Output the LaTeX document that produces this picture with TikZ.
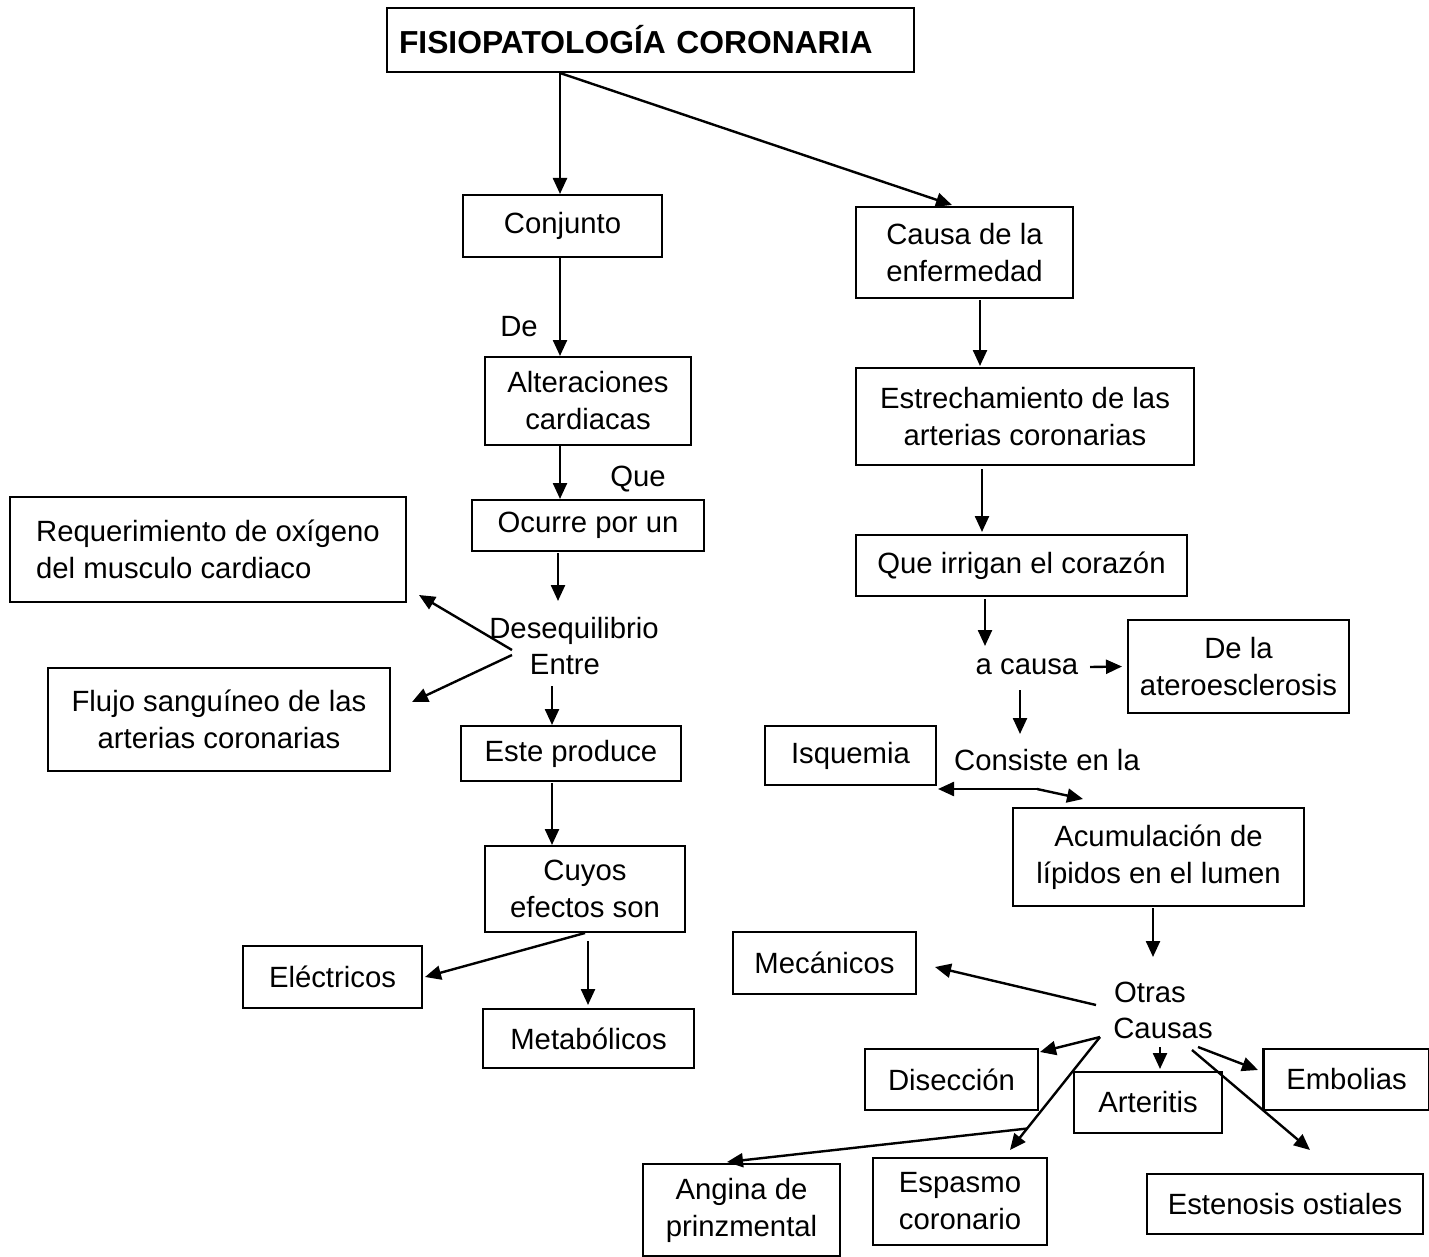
\documentclass[tikz,border=0pt]{standalone}
\usepackage{fontspec}
\setmainfont{Liberation Sans}
\usetikzlibrary{arrows.meta,calc}
\newcommand\mapfont{\fontsize{14.65pt}{18.5pt}\selectfont}
\newcommand\headfont{\fontsize{15.9pt}{19pt}\selectfont\bfseries}
\begin{document}
\begin{tikzpicture}[x=0.5pt,y=-0.5pt,
  box/.style={draw, line width=1.3pt, align=center, inner sep=0pt, font=\mapfont},
  lbl/.style={inner sep=0pt, align=center, font=\mapfont},
  arr/.style={line width=1.2pt, -{Triangle[length=8pt,width=7pt]}},
]
\useasboundingbox (0,0) rectangle (1429,1257);

% ---- boxes ----
\node[box, font=\headfont, align=left, text width=263.5pt, minimum height=32pt] (title) at (650.5,40) {\hspace*{6pt}FISIOPATOLOGÍA CORONARIA};
\node[box, minimum width=99.5pt,  minimum height=31pt]   (conj)    at (562.5,226)   {Conjunto};
\node[box, minimum width=108.5pt, minimum height=45.5pt] (causa)   at (964.5,252.5) {Causa de la\\enfermedad};
\node[box, minimum width=103pt,   minimum height=44pt]   (alt)     at (588,401)     {Alteraciones\\cardiacas};
\node[box, minimum width=169pt,   minimum height=48.5pt] (estr)    at (1025,416.5)  {Estrechamiento de las\\arterias coronarias};
\node[box, minimum width=116pt,   minimum height=25.5pt] (ocurre)  at (588,525.5)   {Ocurre por un};
\node[box, align=left, minimum width=198pt, minimum height=52.5pt] (req) at (208,549.5) {Requerimiento de oxígeno\\del musculo cardiaco};
\node[box, minimum width=165.5pt, minimum height=30.5pt] (irrig)   at (1021.5,565.5) {Que irrigan el corazón};
\node[box, minimum width=171pt,   minimum height=51.5pt] (flujo)   at (219,719.5)   {Flujo sanguíneo de las\\arterias coronarias};
\node[box, minimum width=110.5pt, minimum height=46.5pt] (dela)    at (1238.5,666.5) {De la\\ateroesclerosis};
\node[box, minimum width=110pt,   minimum height=27.5pt] (este)    at (571,753.5)   {Este produce};
\node[box, minimum width=85.5pt,  minimum height=29.5pt] (isq)     at (850.5,755.5) {Isquemia};
\node[box, minimum width=145.5pt, minimum height=49pt]   (acum)    at (1158.5,857)  {Acumulación de\\lípidos en el lumen};
\node[box, minimum width=100pt,   minimum height=43pt]   (cuyos)   at (585,889)     {Cuyos\\efectos son};
\node[box, minimum width=91.5pt,  minimum height=31pt]   (mec)     at (824.5,963)   {Mecánicos};
\node[box, minimum width=89.5pt,  minimum height=31pt]   (elec)    at (332.5,977)   {Eléctricos};
\node[box, minimum width=105.5pt, minimum height=29.5pt] (metab)   at (588.5,1038.5) {Metabólicos};
\node[box, minimum width=86.5pt,  minimum height=30.5pt] (disec)   at (951.5,1079.5) {Disección};
\node[box, minimum width=74pt,    minimum height=30.5pt] (arter)   at (1148,1102.5) {Arteritis};
\node[box, minimum width=83pt,    minimum height=30.5pt] (embol)   at (1346.5,1079.5) {Embolias};
\node[box, minimum width=98.5pt,  minimum height=46pt]   (angina)  at (741.5,1210)  {Angina de\\prinzmental};
\node[box, minimum width=87pt,    minimum height=43.5pt] (espasmo) at (960,1201.5)  {Espasmo\\coronario};
\node[box, minimum width=138pt,   minimum height=30pt]   (esten)   at (1285,1204)   {Estenosis ostiales};

% ---- linking words ----
\node[lbl] (de)       at (519,327)  {De};
\node[lbl] (que)      at (638,479)  {Que};
\node[lbl] (deseq)    at (574,631)  {Desequilibrio};
\node[lbl] (entre)    at (565,665)  {Entre};
\node[lbl] (acausa)   at (1027,667) {a causa};
\node[lbl] (consiste) at (1047,760) {Consiste en la};
\node[lbl] (otras)    at (1150,992) {Otras};
\node[lbl] (causas)   at (1163,1028) {Causas};

% ---- left branch ----
\draw[arr] ($(title)+(-90.5,32)$) -- ($(conj)+(-2.5,-32)$);
\draw[arr] ($(title)+(-90.5,33)$) -- ($(causa)+(-12.5,-47.5)$);
\draw[arr] ($(conj)+(-2.5,31)$) -- ($(alt)+(-28,-45)$);
\draw[arr] ($(alt)+(-28,45)$) -- ($(ocurre)+(-28,-26.5)$);
\draw[arr] ($(ocurre)+(-30,27.5)$) -- ($(deseq)+(-16,-30)$);
\draw[arr] ($(deseq)+(-62,19)$) -- ($(req)+(211,45.5)$);
\draw[arr] ($(deseq)+(-62,24)$) -- ($(flujo)+(193,-17.5)$);
\draw[arr] ($(entre)+(-13,21)$) -- ($(este)+(-19,-28.5)$);
\draw[arr] ($(este)+(-19,29.5)$) -- ($(cuyos)+(-33,-44)$);
\draw[arr] ($(cuyos)+(0,44)$) -- ($(elec)+(92.5,0)$);
\draw[arr] ($(cuyos)+(3,52)$) -- ($(metab)+(-0.5,-33.5)$);

% ---- right branch ----
\draw[arr] ($(causa)+(15.5,47.5)$) -- ($(estr)+(-45,-50.5)$);
\draw[arr] ($(estr)+(-43,52.5)$) -- ($(irrig)+(-39.5,-33.5)$);
\draw[arr] ($(irrig)+(-36.5,33.5)$) -- ($(acausa)+(-42,-21)$);
\draw[arr] ($(acausa)+(63,0)$) -- ($(dela)+(-116.5,0)$);
\draw[arr] ($(acausa)+(-7,23)$) -- ($(consiste)+(-27,-26)$);
\draw[arr] ($(consiste)+(-10,29)$) -- ($(isq)+(87.5,33.5)$);
\draw[arr] ($(consiste)+(-10,29)$) -- ($(acum)+(-75.5,-58)$);
\draw[arr] ($(acum)+(-5.5,51)$) -- ($(otras)+(3,-35)$);

% ---- other causes ----
\draw[arr] ($(otras)+(-54,13)$) -- ($(mec)+(110.5,4)$);
\draw[arr] ($(causas)+(-63,9)$) -- ($(disec)+(88.5,-27.5)$);
\draw[arr] ($(causas)+(-63,9)$) -- coordinate[pos=0.81] (split) ($(espasmo)+(50,-51.5)$);
\draw[arr] (split) -- ($(angina)+(-14.5,-48)$);
\draw[arr] ($(causas)+(-3,19)$) -- ($(arter)+(12,-33.5)$);
\draw[arr] ($(causas)+(35,19)$) -- ($(embol)+(-88.5,-9.5)$);
\draw[arr] ($(causas)+(29,22)$) -- ($(esten)+(25,-54)$);
\end{tikzpicture}
\end{document}
